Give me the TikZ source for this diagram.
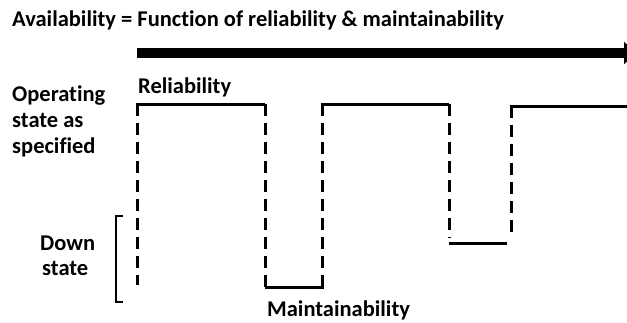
\documentclass[tikz,border=0pt]{standalone}
\usepackage{fontspec}
\setmainfont{Carlito}[Ligatures={NoCommon}]
\usetikzlibrary{arrows.meta}
\begin{document}
\begin{tikzpicture}[x=1pt,y=-1pt,
  lbl/.style={inner sep=0pt,font=\fontsize{22.5}{27}\selectfont\bfseries},
  up/.style={line width=3pt,line cap=butt},
  dsh/.style={line width=3pt,dash pattern=on 12pt off 7pt},
  axis/.style={line width=10pt,-{Triangle[length=12pt,width=22pt]}}]
\useasboundingbox (0,0) rectangle (627,322);
\clip (0,0) rectangle (627,322);
% title
\node[lbl,anchor=base west] (title) at (12,26) {Availability = Function of reliability \& maintainability};
% time axis
\coordinate (tstart) at (137,53);
\coordinate (tend) at (636,53);
\draw[axis] (tstart) -- (tend);
% labels
\node[lbl,anchor=base west] (op1) at (12,101) {Operating};
\node[lbl,anchor=base west] (op2) at (12,127) {state as};
\node[lbl,anchor=base west] (op3) at (12,153) {specified};
\node[lbl,anchor=base west] (rel) at (138,93) {Reliability};
\node[lbl,anchor=base west] (down1) at (40,250) {Down};
\node[lbl,anchor=base west] (down2) at (42,275) {state};
\node[lbl,anchor=base west] (mnt) at (267,316) {Maintainability};
% bracket
\coordinate (b1) at (123,216);
\coordinate (b2) at (116,216);
\coordinate (b3) at (116,302);
\coordinate (b4) at (123,302);
\draw[line width=1.2pt] (b1) -- (b2) -- (b3) -- (b4);
% waveform corners
\coordinate (p1) at (137,104);
\coordinate (p1b) at (137,285);
\coordinate (p2) at (265,104);
\coordinate (p3) at (265,287);
\coordinate (p4) at (322,287);
\coordinate (p5) at (322,104);
\coordinate (p6) at (449,104);
\coordinate (p6b) at (449,238);
\coordinate (p7) at (449,243);
\coordinate (p8) at (507,243);
\coordinate (p9b) at (511,238);
\coordinate (p9) at (511,106);
\coordinate (p10) at (627,106);
% solid levels
\draw[up] ([xshift=-1.5pt]p1) -- (p2);
\draw[up] (p3) -- ([xshift=1.5pt]p4);
\draw[up] ([xshift=-1.5pt]p5) -- (p6);
\draw[up] (p7) -- (p8);
\draw[up] ([xshift=-1.5pt]p9) -- (p10);
% dashed transitions
\draw[dsh] (p1) -- (p1b);
\draw[dsh] (p2) -- (p3);
\draw[dsh] (p4) -- (p5);
\draw[dsh] (p6) -- (p6b);
\draw[dsh] (p9) -- (p9b);
\end{tikzpicture}
\end{document}
